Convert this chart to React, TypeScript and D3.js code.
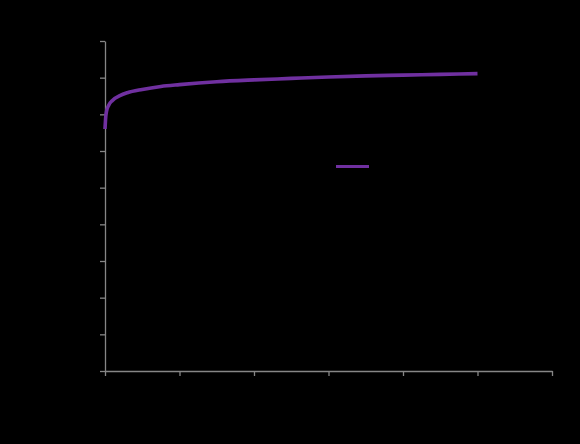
import React, { useEffect, useRef } from "react";
import * as d3 from "d3";

// Series (x in the axis units 0..600, y in 0..90)
const xValues = [0, 1, 2, 5, 10, 20, 30, 50, 75, 100, 150, 200, 250, 300, 350, 400, 450, 500];
const yValues = [66.0, 69.3, 70.8, 72.5, 73.8, 75.1, 75.9, 76.8, 77.6, 78.1, 78.9, 79.4, 79.8, 80.2, 80.5, 80.7, 80.9, 81.1];
const xTicks = [0, 100, 200, 300, 400, 500, 600];
const yTicks = [0, 10, 20, 30, 40, 50, 60, 70, 80, 90];
const seriesName = "Series1";

const App: React.FC = () => {
  const svgRef = useRef<SVGSVGElement>(null);

  useEffect(() => {
    document.body.style.margin = "0";
    document.body.style.background = "#000";
    if (!svgRef.current) return;

    const W = 580, H = 444;
    const margin = { top: 41, right: 28, bottom: 73, left: 105 };
    const width = W - margin.left - margin.right;
    const height = H - margin.top - margin.bottom;

    const root = d3.select(svgRef.current);
    root.selectAll("*").remove();
    root.attr("width", W).attr("height", H);

    root.append("rect").attr("width", W).attr("height", H).attr("fill", "#000");

    const svg = root.append("g").attr("transform", `translate(${margin.left},${margin.top})`);

    const x = d3.scaleLinear().domain([0, 600]).range([0, width]);
    const y = d3.scaleLinear().domain([0, 90]).range([height, 0]);

    const axisColor = "#868686";

    // Y axis
    svg.append("g")
      .call(d3.axisLeft(y).tickValues(yTicks).tickSize(5).tickSizeOuter(0))
      .call(g => g.select(".domain").attr("stroke", axisColor).attr("stroke-width", 1.3))
      .call(g => g.selectAll(".tick line").attr("stroke", axisColor).attr("stroke-width", 1.3))
      .call(g => g.selectAll(".tick text").attr("fill", "#000").attr("font-family", "Arial, Liberation Sans").attr("font-size", 10));

    // X axis
    svg.append("g")
      .attr("transform", `translate(0,${height})`)
      .call(d3.axisBottom(x).tickValues(xTicks).tickSize(5).tickSizeOuter(0))
      .call(g => g.select(".domain").attr("stroke", axisColor).attr("stroke-width", 1.3))
      .call(g => g.selectAll(".tick line").attr("stroke", axisColor).attr("stroke-width", 1.3))
      .call(g => g.selectAll(".tick text").attr("fill", "#000").attr("font-family", "Arial, Liberation Sans").attr("font-size", 10));

    // Line
    const data = xValues.map((v, i) => ({ x: v, y: yValues[i] }));
    const line = d3.line<{ x: number; y: number }>()
      .x(d => x(d.x))
      .y(d => y(d.y))
      .curve(d3.curveMonotoneX);

    svg.append("path")
      .datum(data)
      .attr("fill", "none")
      .attr("stroke", "#7030a0")
      .attr("stroke-width", 3.6)
      .attr("stroke-linejoin", "round")
      .attr("d", line);

    // Legend
    const legend = root.append("g").attr("transform", "translate(336,166.5)");
    legend.append("line")
      .attr("x1", 0).attr("x2", 33)
      .attr("stroke", "#7030a0")
      .attr("stroke-width", 3);
    legend.append("text")
      .attr("x", 38).attr("y", 4)
      .attr("fill", "#000")
      .attr("font-family", "Arial, Liberation Sans")
      .attr("font-size", 11)
      .text(seriesName);
  }, []);

  return <svg ref={svgRef} style={{ display: "block" }} />;
};

export default App;
